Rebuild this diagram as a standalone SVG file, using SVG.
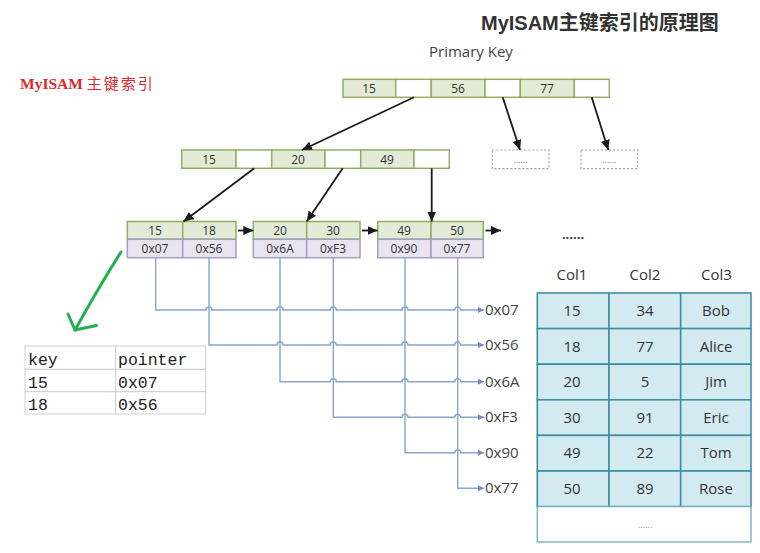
<svg xmlns="http://www.w3.org/2000/svg" width="760" height="553" viewBox="0 0 760 553">
<defs>
<marker id="ah" markerUnits="userSpaceOnUse" markerWidth="10" markerHeight="9" refX="10" refY="4.5" orient="auto"><path d="M0,0 L10,4.5 L0,9 z" fill="#1a1a1a"/></marker>
<marker id="bh" markerUnits="userSpaceOnUse" markerWidth="6" markerHeight="6" refX="6" refY="3" orient="auto"><path d="M0,0 L6,3 L0,6 z" fill="#6f8cc0"/></marker>
<style>
.k{fill:#e3ead5;stroke:#93ad64;stroke-width:1.5}
.e{fill:#ffffff;stroke:#93ad64;stroke-width:1.5}
.p{fill:#e9e5f0;stroke:#a79dbf;stroke-width:1.5}
.t{font-family:"Open Sans","Noto Sans",sans-serif;font-size:12px;fill:#333;text-anchor:middle}
.arr{stroke:#1a1a1a;stroke-width:1.8;fill:none;marker-end:url(#ah)}
.pl{stroke:#8aa3cf;stroke-width:1.4;fill:none}
.pt{font-family:"Open Sans","Noto Sans",sans-serif;font-size:15px;fill:#444}
.c{fill:#d3eaf0;stroke:#3f8fa3;stroke-width:1.6}
.ct{font-family:"Open Sans","Noto Sans",sans-serif;font-size:15px;fill:#333;text-anchor:middle}
.g{stroke:#cfcfcf;stroke-width:1;fill:#fff}
.m{font-family:"Liberation Mono","DejaVu Sans Mono",monospace;font-size:16.5px;fill:#222}
.dot{fill:#fff;stroke:#9aa48f;stroke-width:1.2;stroke-dasharray:2,2}
</style>
</defs>

<text x="481" y="30" font-family="Liberation Sans,Arial,Noto Sans CJK SC,sans-serif" font-size="20" font-weight="bold" fill="#333">MyISAM<tspan font-family="Noto Sans CJK SC,sans-serif">主键索引的原理图</tspan></text>
<text x="429" y="57" font-family="Open Sans,Noto Sans,sans-serif" font-size="15" fill="#444">Primary Key</text>
<text x="20" y="89" font-family="Liberation Serif,Noto Sans CJK SC,serif" font-size="15.5" font-weight="bold" fill="#e3262c">MyISAM <tspan font-family="Noto Sans CJK SC,serif" font-size="15" font-weight="normal" letter-spacing="2">主键索引</tspan></text>

<g id="root">
<rect class="k" x="343" y="79.3" width="52.7" height="18"/>
<rect class="e" x="395.7" y="79.3" width="35.6" height="18"/>
<rect class="k" x="431.3" y="79.3" width="53.7" height="18"/>
<rect class="e" x="485" y="79.3" width="35.3" height="18"/>
<rect class="k" x="520.3" y="79.3" width="54" height="18"/>
<rect class="e" x="574.3" y="79.3" width="35" height="18"/>
<text class="t" x="369" y="92.5">15</text>
<text class="t" x="458" y="92.5">56</text>
<text class="t" x="547" y="92.5">77</text>
</g>

<g id="dots1"><rect class="dot" x="492.3" y="150" width="56.7" height="18.7"/><text x="520.6" y="163" font-family="Open Sans,sans-serif" font-size="9" fill="#777" text-anchor="middle">......</text></g>
<g id="dots2"><rect class="dot" x="581" y="150" width="56.7" height="18.7"/><text x="609.3" y="163" font-family="Open Sans,sans-serif" font-size="9" fill="#777" text-anchor="middle">......</text></g>

<g id="mid">
<rect class="k" x="181.7" y="150" width="54.3" height="18.3"/>
<rect class="e" x="236" y="150" width="35.7" height="18.3"/>
<rect class="k" x="271.7" y="150" width="53.3" height="18.3"/>
<rect class="e" x="325" y="150" width="35.7" height="18.3"/>
<rect class="k" x="360.7" y="150" width="53.3" height="18.3"/>
<rect class="e" x="414" y="150" width="35.3" height="18.3"/>
<text class="t" x="209" y="163.5">15</text>
<text class="t" x="298" y="163.5">20</text>
<text class="t" x="387" y="163.5">49</text>
</g>

<g id="leaf1">
<rect class="k" x="127.3" y="221.5" width="55.4" height="17.8"/>
<rect class="k" x="182.7" y="221.5" width="53.3" height="17.8"/>
<rect class="p" x="127.3" y="239.3" width="55.4" height="18.4"/>
<rect class="p" x="182.7" y="239.3" width="53.3" height="18.4"/>
<text class="t" x="155" y="234.6">15</text><text class="t" x="209" y="234.6">18</text>
<text class="t" x="155" y="252.8">0x07</text><text class="t" x="209" y="252.8">0x56</text>
</g>
<g id="leaf2">
<rect class="k" x="253.3" y="221.5" width="53.4" height="17.8"/>
<rect class="k" x="306.7" y="221.5" width="53.3" height="17.8"/>
<rect class="p" x="253.3" y="239.3" width="53.4" height="18.4"/>
<rect class="p" x="306.7" y="239.3" width="53.3" height="18.4"/>
<text class="t" x="280" y="234.6">20</text><text class="t" x="333" y="234.6">30</text>
<text class="t" x="280" y="252.8">0x6A</text><text class="t" x="333" y="252.8">0xF3</text>
</g>
<g id="leaf3">
<rect class="k" x="377.7" y="221.5" width="53.3" height="17.8"/>
<rect class="k" x="431" y="221.5" width="52.3" height="17.8"/>
<rect class="p" x="377.7" y="239.3" width="53.3" height="18.4"/>
<rect class="p" x="431" y="239.3" width="52.3" height="18.4"/>
<text class="t" x="404" y="234.6">49</text><text class="t" x="457" y="234.6">50</text>
<text class="t" x="404" y="252.8">0x90</text><text class="t" x="457" y="252.8">0x77</text>
</g>

<text x="573" y="239" font-family="Open Sans,sans-serif" font-size="13" font-weight="bold" fill="#333" text-anchor="middle">......</text>

<g id="connectors">
<line class="arr" x1="414" y1="97.3" x2="302" y2="150"/>
<line class="arr" x1="502.7" y1="97.3" x2="520" y2="150"/>
<line class="arr" x1="591.7" y1="97.3" x2="608.3" y2="150"/>
<line class="arr" x1="254.3" y1="168.3" x2="183.5" y2="221.5"/>
<line class="arr" x1="342.7" y1="168.3" x2="306.7" y2="221.5"/>
<line class="arr" x1="431.7" y1="168.3" x2="431.7" y2="221.5"/>
<line class="arr" x1="238" y1="230.5" x2="253.3" y2="230.5"/>
<line class="arr" x1="362" y1="230.5" x2="377.7" y2="230.5"/>
<line class="arr" x1="485.5" y1="230.5" x2="501" y2="230.5"/>

<path class="pl" marker-end="url(#bh)" d="M155.7,257.7 V310 H206 A3,3 0 0 1 212,310 H277 A3,3 0 0 1 283,310 H330.3 A3,3 0 0 1 336.3,310 H402 A3,3 0 0 1 408,310 H454.7 A3,3 0 0 1 460.7,310 H484"/>
<path class="pl" marker-end="url(#bh)" d="M209,257.7 V345 H277 A3,3 0 0 1 283,345 H330.3 A3,3 0 0 1 336.3,345 H402 A3,3 0 0 1 408,345 H454.7 A3,3 0 0 1 460.7,345 H484"/>
<path class="pl" marker-end="url(#bh)" d="M280,257.7 V381.7 H330.3 A3,3 0 0 1 336.3,381.7 H402 A3,3 0 0 1 408,381.7 H454.7 A3,3 0 0 1 460.7,381.7 H484"/>
<path class="pl" marker-end="url(#bh)" d="M333.3,257.7 V417.3 H402 A3,3 0 0 1 408,417.3 H454.7 A3,3 0 0 1 460.7,417.3 H484"/>
<path class="pl" marker-end="url(#bh)" d="M405,257.7 V452.7 H454.7 A3,3 0 0 1 460.7,452.7 H484"/>
<path class="pl" marker-end="url(#bh)" d="M457.7,257.7 V488.3 H484"/>

<g stroke="#22b14c" stroke-width="3" fill="none" stroke-linecap="round" stroke-linejoin="round">
<path d="M121,252 Q100,285 75,330"/>
<path d="M68,314 L75,330 L96.5,325.5"/>
</g>
</g>

<g id="ptrlabels">
<text class="pt" x="485" y="315">0x07</text>
<text class="pt" x="485" y="350">0x56</text>
<text class="pt" x="485" y="386.7">0x6A</text>
<text class="pt" x="485" y="422.3">0xF3</text>
<text class="pt" x="485" y="457.7">0x90</text>
<text class="pt" x="485" y="493.3">0x77</text>
</g>

<g id="keytable">
<rect class="g" x="25" y="346" width="90.7" height="23.3"/>
<rect class="g" x="115.7" y="346" width="90" height="23.3"/>
<rect class="g" x="25" y="369.3" width="90.7" height="22.4"/>
<rect class="g" x="115.7" y="369.3" width="90" height="22.4"/>
<rect class="g" x="25" y="391.7" width="90.7" height="22.3"/>
<rect class="g" x="115.7" y="391.7" width="90" height="22.3"/>
<text class="m" x="28" y="365">key</text><text class="m" x="118" y="365">pointer</text>
<text class="m" x="28" y="387.5">15</text><text class="m" x="118" y="387.5">0x07</text>
<text class="m" x="28" y="409.5">18</text><text class="m" x="118" y="409.5">0x56</text>
</g>

<g id="datatable">
<text class="ct" x="572" y="280">Col1</text>
<text class="ct" x="645" y="280">Col2</text>
<text class="ct" x="716.5" y="280">Col3</text>
<g>
<rect class="c" x="537.3" y="293" width="71.7" height="35.6"/><rect class="c" x="609" y="293" width="71.7" height="35.6"/><rect class="c" x="680.7" y="293" width="70.3" height="35.6"/>
<rect class="c" x="537.3" y="328.6" width="71.7" height="35.6"/><rect class="c" x="609" y="328.6" width="71.7" height="35.6"/><rect class="c" x="680.7" y="328.6" width="70.3" height="35.6"/>
<rect class="c" x="537.3" y="364.2" width="71.7" height="35.6"/><rect class="c" x="609" y="364.2" width="71.7" height="35.6"/><rect class="c" x="680.7" y="364.2" width="70.3" height="35.6"/>
<rect class="c" x="537.3" y="399.8" width="71.7" height="35.6"/><rect class="c" x="609" y="399.8" width="71.7" height="35.6"/><rect class="c" x="680.7" y="399.8" width="70.3" height="35.6"/>
<rect class="c" x="537.3" y="435.4" width="71.7" height="35.6"/><rect class="c" x="609" y="435.4" width="71.7" height="35.6"/><rect class="c" x="680.7" y="435.4" width="70.3" height="35.6"/>
<rect class="c" x="537.3" y="471" width="71.7" height="35.6"/><rect class="c" x="609" y="471" width="71.7" height="35.6"/><rect class="c" x="680.7" y="471" width="70.3" height="35.6"/>
<rect x="537.3" y="506.6" width="213.7" height="35.4" fill="#fff" stroke="#7fb0bf" stroke-width="1.4"/>
</g>
<text class="ct" x="572" y="316">15</text><text class="ct" x="645" y="316">34</text><text class="ct" x="716" y="316">Bob</text>
<text class="ct" x="572" y="351.6">18</text><text class="ct" x="645" y="351.6">77</text><text class="ct" x="716" y="351.6">Alice</text>
<text class="ct" x="572" y="387.2">20</text><text class="ct" x="645" y="387.2">5</text><text class="ct" x="716" y="387.2">Jim</text>
<text class="ct" x="572" y="422.8">30</text><text class="ct" x="645" y="422.8">91</text><text class="ct" x="716" y="422.8">Eric</text>
<text class="ct" x="572" y="458.4">49</text><text class="ct" x="645" y="458.4">22</text><text class="ct" x="716" y="458.4">Tom</text>
<text class="ct" x="572" y="494">50</text><text class="ct" x="645" y="494">89</text><text class="ct" x="716" y="494">Rose</text>
<text x="645" y="528" font-family="Open Sans,sans-serif" font-size="9" fill="#888" text-anchor="middle">......</text>
</g>
</svg>
